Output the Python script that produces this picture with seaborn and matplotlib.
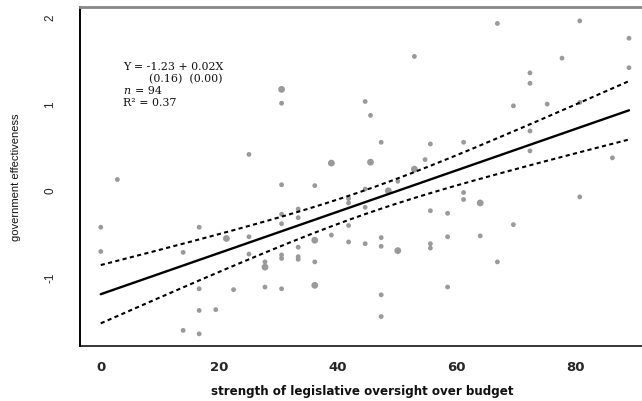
import numpy as np
import pandas as pd
import matplotlib
matplotlib.use("Agg")
import matplotlib.pyplot as plt
import seaborn as sns

# ---- data ----
oversight = [0.0, 0.0, 2.8, 13.9, 13.9, 16.6, 16.6, 16.6, 16.6, 19.4,
             21.2, 22.4, 25.0, 25.0, 25.0, 27.7, 27.7, 27.7,
             30.5, 30.5, 30.5, 30.5, 30.5, 30.5, 30.5, 30.5,
             33.3, 33.3, 33.3, 33.3, 33.3,
             36.1, 36.1, 36.1, 36.1, 38.9, 38.9,
             41.8, 41.8, 41.8, 41.8, 44.6, 44.6, 44.6, 44.6,
             45.5, 45.5, 47.3, 47.3, 47.3, 47.3, 47.3, 48.5, 50.1, 50.1,
             52.9, 52.9, 54.7, 55.6, 55.6, 55.6, 55.6,
             58.5, 58.5, 58.5, 61.2, 61.2, 61.2, 64.0, 64.0,
             66.9, 66.9, 69.6, 69.6, 72.4, 72.4, 72.4, 72.4,
             75.3, 77.8, 80.8, 80.8, 80.8, 86.3, 89.1, 89.1]
effectiveness = [-0.43, -0.71, 0.12, -0.72, -1.62, -0.43, -1.14, -1.39, -1.66, -1.38,
                 -0.56, -1.15, 0.41, -0.54, -0.74, -0.83, -0.89, -1.12,
                 1.16, 1.00, 0.06, -0.28, -0.39, -0.75, -0.79, -1.14,
                 -0.22, -0.32, -0.66, -0.77, -0.80,
                 0.05, -0.58, -0.83, -1.10, 0.31, -0.52,
                 -0.10, -0.15, -0.41, -0.60, 1.02, 0.01, -0.20, -0.62,
                 0.86, 0.32, 0.55, -0.55, -0.65, -1.21, -1.46, -0.01, 0.10, -0.70,
                 1.54, 0.24, 0.35, 0.53, -0.24, -0.62, -0.67,
                 -0.27, -0.54, -1.12, 0.55, -0.03, -0.11, -0.15, -0.53,
                 1.92, -0.83, 0.97, -0.40, 1.35, 1.23, 0.68, 0.45,
                 0.99, 1.52, 1.95, 1.01, -0.08, 0.37, 1.75, 1.41]
# number of overlapping observations at each plotted point
overlap = [1, 1, 1, 1, 1, 1, 1, 1, 1, 1,
           2, 1, 1, 1, 1, 1, 2, 1,
           2, 1, 1, 1, 1, 1, 1, 1,
           1, 1, 1, 1, 1,
           1, 2, 1, 2, 2, 1,
           1, 1, 1, 1, 1, 1, 1, 1,
           1, 2, 1, 1, 1, 1, 1, 2, 1, 2,
           1, 2, 1, 1, 1, 1, 1,
           1, 1, 1, 1, 1, 1, 2, 1,
           1, 1, 1, 1, 1, 1, 1, 1,
           1, 1, 1, 1, 1, 1, 1, 1]
x_ticks = [0, 20, 40, 60, 80]
y_ticks = [-1, 0, 1, 2]
x_label = "strength of legislative oversight over budget"
y_label = "government effectiveness"
eq_lines = ["Y = -1.23 + 0.02X", "(0.16)  (0.00)", "= 94", "R\u00b2 = 0.37"]
T_CRIT = 1.986

df = pd.DataFrame({"x": oversight, "y": effectiveness, "n": overlap})

# ---- OLS fit with 95% confidence band (weighted by overlap counts) ----
xs = np.repeat(df["x"].values, df["n"].values)
ys = np.repeat(df["y"].values, df["n"].values)
N = len(xs)
xbar = xs.mean()
sxx = ((xs - xbar) ** 2).sum()
slope = ((xs - xbar) * (ys - ys.mean())).sum() / sxx
intercept = ys.mean() - slope * xbar
resid = ys - (intercept + slope * xs)
s = np.sqrt((resid ** 2).sum() / (N - 2))
grid = np.linspace(xs.min(), xs.max(), 200)
fit = intercept + slope * grid
half = T_CRIT * s * np.sqrt(1.0 / N + (grid - xbar) ** 2 / sxx)
fit_df = pd.DataFrame({"x": grid, "fit": fit, "lo": fit - half, "hi": fit + half})

# ---- figure ----
sns.set_theme(style="white")
fig = plt.figure(figsize=(6.42, 4.02), dpi=100)
ax = fig.add_axes([80 / 642, 55 / 402, 565 / 642, 339 / 402])

sns.scatterplot(data=df, x="x", y="y", size="n", sizes={1: 12, 2: 24},
                color="#9a9a9a", edgecolor="none", linewidth=0, legend=False, ax=ax)
sns.lineplot(data=fit_df, x="x", y="fit", color="black", lw=1.7, ax=ax)
for col in ["lo", "hi"]:
    sns.lineplot(data=fit_df, x="x", y=col, color="black", lw=1.5, ax=ax,
                 dashes=False, linestyle=(0, (2.0, 1.6)))

ax.set_xlim(-3.5, 91.8)
ax.set_ylim(-1.80, 2.11)
ax.set_xticks(x_ticks)
ax.set_yticks(y_ticks)
ax.set_xticklabels([str(t) for t in x_ticks], fontsize=9.5, fontweight="bold",
                   family="DejaVu Sans")
ax.set_yticklabels([str(t) for t in y_ticks], fontsize=8.5, rotation=90,
                   va="center", family="Liberation Sans")
ax.tick_params(axis="x", direction="out", length=5, width=1.3, color="black", pad=5)
ax.tick_params(axis="y", direction="out", length=9, width=1.0, color="black", pad=8)
for lbl in ax.get_yticklabels():
    lbl.set_rotation(90)

ax.set_xlabel(x_label, fontsize=8.6, fontweight="bold", family="DejaVu Sans",
              labelpad=8, color="#111111")
ax.set_ylabel(y_label, fontsize=8.0, family=["Liberation Sans Narrow", "Liberation Sans"],
              color="#111111")
ax.yaxis.set_label_coords(-0.105, 0.50)

ax.spines["left"].set_color("black")
ax.spines["left"].set_linewidth(1.4)
ax.spines["bottom"].set_color("black")
ax.spines["bottom"].set_linewidth(1.1)
ax.spines["top"].set_color("#888888")
ax.spines["top"].set_linewidth(2.0)
ax.spines["right"].set_visible(False)

serif = ["DejaVu Serif"]
tk = dict(transform=ax.transAxes, fontsize=7.9, family=serif, color="#111111", va="center")
ax.text(0.076, 0.826, eq_lines[0], **tk)
ax.text(0.122, 0.789, eq_lines[1], **tk)
ax.text(0.076, 0.755, "n", fontstyle="italic", **tk)
ax.text(0.097, 0.755, eq_lines[2], **tk)
ax.text(0.076, 0.721, eq_lines[3], **tk)

fig.savefig("out.png", dpi=100)
